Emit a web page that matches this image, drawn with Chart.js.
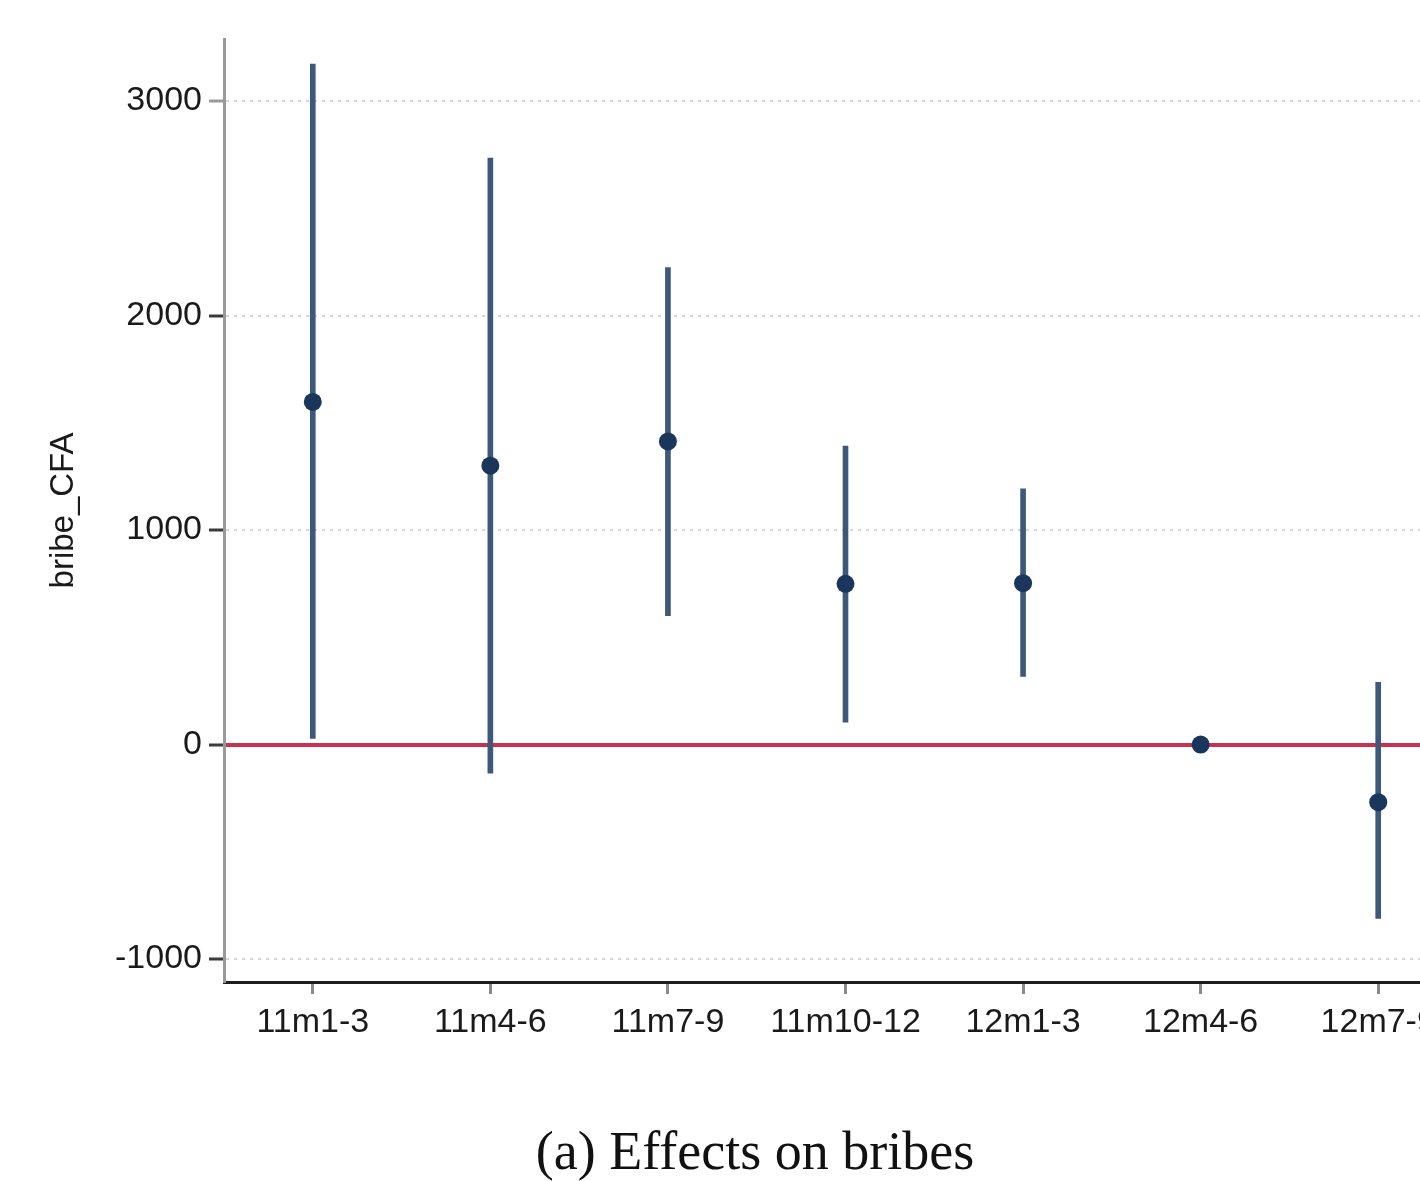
<!DOCTYPE html>
<html>
<head>
<meta charset="utf-8">
<script src="https://cdn.jsdelivr.net/npm/chart.js@4.4.0/dist/chart.umd.min.js"></script>
<style>
  html, body { margin: 0; padding: 0; background: #ffffff; overflow: hidden; width: 1420px; height: 1181px; }
  #wrap { position: absolute; left: 0; top: 0; width: 1480px; height: 1090px; }
  #caption { position: absolute; left: 755px; top: 1124px; transform: translateX(-50%); white-space: nowrap;
             font-family: "Liberation Serif", "DejaVu Serif", serif; font-size: 54px; line-height: 54px; color: #111; }
</style>
</head>
<body>
<div id="wrap"><canvas id="c" width="1480" height="1090"></canvas></div>
<div id="caption">(a) Effects on bribes</div>
<script>
const categories = ["11m1-3", "11m4-6", "11m7-9", "11m10-12", "12m1-3", "12m4-6", "12m7-9"];
const estimates  = [1597, 1300, 1413, 749, 752, 0, -269];
const ciLower    = [28, -133, 601, 104, 317, null, -811];
const ciUpper    = [3172, 2734, 2224, 1391, 1192, null, 290];
const yTicks     = [-1000, 0, 1000, 2000, 3000];
const yTitle     = "bribe_CFA";

const ciBars = categories.map((c, i) => (ciLower[i] === null ? null : [ciLower[i], ciUpper[i]]));
const FONT = "'Liberation Sans', Arial, sans-serif";

new Chart(document.getElementById('c'), {
  type: 'bar',
  data: {
    labels: categories,
    datasets: [
      {
        type: 'bar',
        data: ciBars,
        backgroundColor: '#3d5879',
        borderWidth: 0,
        barThickness: 5,
        order: 2
      },
      {
        type: 'line',
        data: estimates,
        showLine: false,
        pointRadius: 9,
        pointHoverRadius: 9,
        pointBackgroundColor: '#1a365d',
        pointBorderWidth: 0,
        order: 1
      }
    ]
  },
  options: {
    responsive: false,
    animation: false,
    events: [],
    layout: { padding: { top: 39, right: 13, bottom: 0, left: 0 } },
    plugins: { legend: { display: false }, tooltip: { enabled: false }, title: { display: false } },
    scales: {
      x: {
        offset: true,
        grid: { display: true, drawOnChartArea: false, drawTicks: true, tickLength: 12, tickColor: '#8a8a8a', tickWidth: 3, offset: false },
        border: { display: true, color: '#1e1e1e', width: 3 },
        ticks: { color: '#1a1a1a', font: { family: FONT, size: 34 }, padding: 8, maxRotation: 0, autoSkip: false },
        afterFit: (s) => { s.height = 108; }
      },
      y: {
        min: -1107,
        max: 3289,
        afterBuildTicks: (s) => { s.ticks = yTicks.map(v => ({ value: v })); },
        afterFit: (s) => { s.width = 224; },
        grid: {
          drawOnChartArea: true,
          tickLength: 15,
          tickWidth: 3,
          tickColor: (ctx) => (ctx.tick && ctx.tick.value === 3000 ? '#9a9a9a' : '#3a3a3a'),
          color: (ctx) => (ctx.tick && ctx.tick.value === 0 ? '#c8324f' : '#d6d6d6'),
          lineWidth: (ctx) => (ctx.tick && ctx.tick.value === 0 ? 4 : 2)
        },
        border: {
          display: true, color: '#999999', width: 3,
          dash: (ctx) => (ctx.tick && ctx.tick.value === 0 ? [] : [3, 5])
        },
        ticks: { color: '#1a1a1a', font: { family: FONT, size: 34 }, padding: 7, callback: (v) => String(v) },
        title: { display: true, text: yTitle, color: '#1a1a1a', font: { family: FONT, size: 33 }, padding: { top: 44, bottom: 0 } }
      }
    }
  }
});
</script>
</body>
</html>
